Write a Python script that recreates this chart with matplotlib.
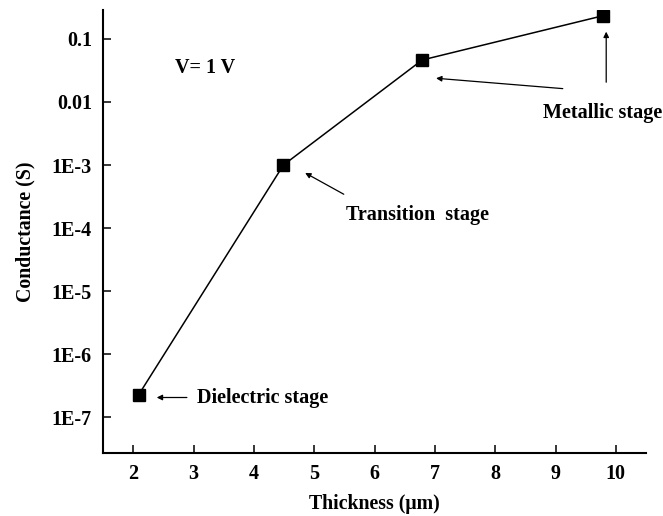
import matplotlib
matplotlib.use("Agg")
import matplotlib.pyplot as plt
from matplotlib.ticker import FixedLocator, FixedFormatter, NullLocator

thickness = [2.09, 4.49, 6.79, 9.79]
conductance = [2.26e-7, 1.0e-3, 0.0464, 0.234]

ytick_vals = [1e-7, 1e-6, 1e-5, 1e-4, 1e-3, 0.01, 0.1]
ytick_labels = ["1E-7", "1E-6", "1E-5", "1E-4", "1E-3", "0.01", "0.1"]
xtick_vals = [2, 3, 4, 5, 6, 7, 8, 9, 10]

plt.rcParams["font.family"] = ["Liberation Serif", "DejaVu Serif"]
plt.rcParams["font.weight"] = "bold"

fig = plt.figure(figsize=(6.63, 5.16), dpi=100)
ax = fig.add_axes([0.1554, 0.1221, 0.819, 0.8585])

ax.plot(thickness, conductance, color="black", lw=1.1, marker="s",
        markersize=8.5, markerfacecolor="black", markeredgecolor="black")

ax.set_yscale("log")
ax.set_xlim(1.5, 10.5)
ax.set_ylim(2.7e-8, 0.288)

ax.yaxis.set_major_locator(FixedLocator(ytick_vals))
ax.yaxis.set_major_formatter(FixedFormatter(ytick_labels))
ax.yaxis.set_minor_locator(NullLocator())
ax.set_xticks(xtick_vals)
ax.set_xticklabels([str(v) for v in xtick_vals])

ax.spines["top"].set_visible(False)
ax.spines["right"].set_visible(False)
for s in ["left", "bottom"]:
    ax.spines[s].set_linewidth(1.5)
ax.tick_params(direction="in", length=6, width=1.1, labelsize=14.5, pad=8)
for lab in ax.get_xticklabels() + ax.get_yticklabels():
    lab.set_fontweight("bold")

ax.set_xlabel("Thickness (\u03bcm)", fontsize=14.3, fontweight="bold", labelpad=7)
ax.set_ylabel("Conductance (S)", fontsize=14.3, fontweight="bold", labelpad=12)

ax.text(2.70, 0.0347, "V= 1 V", fontsize=14.5, fontweight="bold", va="center")

arrow = dict(arrowstyle="-|>", lw=0.9, color="black", mutation_scale=8,
             shrinkA=0, shrinkB=0)
ax.text(3.06, 2.05e-7, "Dielectric stage", fontsize=14.5, fontweight="bold", va="center")
ax.annotate("", xy=(2.39, 2.05e-7), xytext=(2.89, 2.05e-7), arrowprops=arrow)

ax.text(5.53, 1.62e-4, "Transition  stage", fontsize=14.5, fontweight="bold", va="center")
ax.annotate("", xy=(4.85, 7.5e-4), xytext=(5.49, 3.44e-4), arrowprops=arrow)

ax.text(8.80, 6.78e-3, "Metallic stage", fontsize=14.5, fontweight="bold", va="center",
        clip_on=False)
ax.annotate("", xy=(7.02, 0.0238), xytext=(9.12, 0.0163), arrowprops=arrow)
ax.annotate("", xy=(9.84, 0.1306), xytext=(9.84, 0.0206), arrowprops=arrow)

fig.savefig("out.png", dpi=100)
